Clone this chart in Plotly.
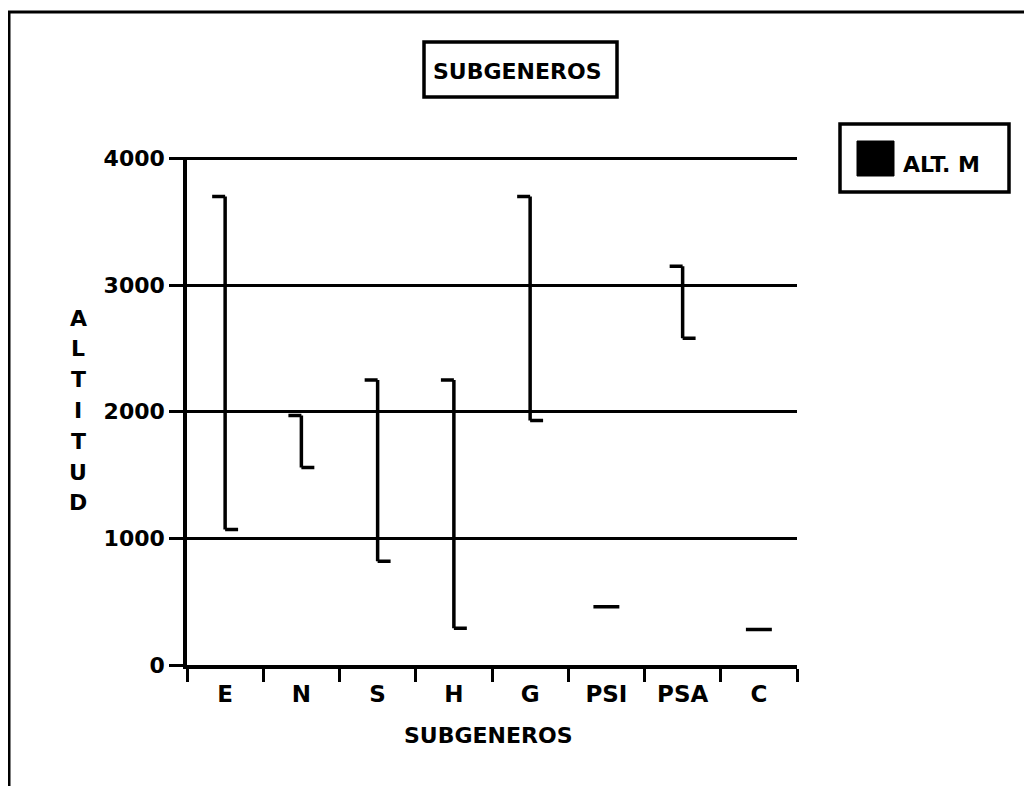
import plotly.graph_objects as go

# ---- data ----
subgeneros = ["E", "N", "S", "H", "G", "PSI", "PSA", "C"]
alt_max = [3700, 1970, 2250, 2250, 3700, 460, 3150, 280]
alt_min = [1070, 1560, 820, 290, 1930, 460, 2580, 280]
y_ticks = [0, 1000, 2000, 3000, 4000]
title_text = "SUBGENEROS"
x_title = "SUBGENEROS"
y_title = "ALTITUD"
legend_label = "ALT. M"

W, H = 1032, 786
OFF = 8  # page body margin
L, T = 187 - OFF, 157 - OFF
BOT = 665 - OFF
R = W - (797 - OFF)
B = H - BOT
PW, PH = W - L - R, H - T - B


def px(xp):
    return (xp - OFF - L) / PW


def py(yp):
    return (BOT - (yp - OFF)) / PH


FONT = dict(family="DejaVu Sans", size=22, color="black", weight="bold")
XFONT = dict(family="DejaVu Sans", size=23, color="black", weight="bold")

fig = go.Figure()
fig.add_trace(go.Ohlc(
    x=subgeneros,
    open=alt_max, high=alt_max, low=alt_min, close=alt_min,
    increasing=dict(line=dict(color="black", width=3.5)),
    decreasing=dict(line=dict(color="black", width=3.5)),
    tickwidth=0.17,
    showlegend=False,
    hoverinfo="skip",
))

shapes = []
shapes.append(dict(type="rect", xref="paper", yref="paper",
                   x0=px(9), x1=px(1050), y0=py(810), y1=py(12),
                   line=dict(color="black", width=3)))
shapes.append(dict(type="rect", xref="paper", yref="paper",
                   x0=px(424), x1=px(617), y0=py(97), y1=py(42),
                   line=dict(color="black", width=3.5), fillcolor="white"))
shapes.append(dict(type="rect", xref="paper", yref="paper",
                   x0=px(840), x1=px(1009), y0=py(192), y1=py(124),
                   line=dict(color="black", width=3.5), fillcolor="white"))
shapes.append(dict(type="rect", xref="paper", yref="paper",
                   x0=px(857), x1=px(894), y0=py(176), y1=py(141),
                   line=dict(color="black", width=1), fillcolor="black"))

annotations = [
    dict(text=title_text, xref="paper", yref="paper", x=px(517), y=py(71),
         xanchor="center", yanchor="middle", showarrow=False, font=FONT),
    dict(text=legend_label, xref="paper", yref="paper", x=px(901), y=py(164),
         xanchor="left", yanchor="middle", showarrow=False, font=FONT),
    dict(text=x_title, xref="paper", yref="paper", x=px(488), y=py(735),
         xanchor="center", yanchor="middle", showarrow=False, font=FONT),
]
for i, ch in enumerate(y_title):
    annotations.append(dict(text=ch, xref="paper", yref="paper",
                            x=px(78), y=py(318 + 30.8 * i),
                            xanchor="center", yanchor="middle",
                            showarrow=False, font=FONT))

fig.update_layout(
    width=W, height=H,
    margin=dict(l=L, r=R, t=T, b=B, pad=0),
    paper_bgcolor="white", plot_bgcolor="white",
    shapes=shapes, annotations=annotations,
    font=FONT,
    showlegend=False,
    xaxis=dict(type="category", categoryorder="array", categoryarray=subgeneros,
               tickson="boundaries", ticks="outside", ticklen=13, tickwidth=3,
               tickcolor="black", showline=True, linewidth=3.5, linecolor="black",
               showgrid=False, zeroline=False, rangeslider=dict(visible=False),
               tickfont=XFONT, ticklabelstandoff=6, fixedrange=True),
    yaxis=dict(range=[0, 4012], tickvals=y_ticks, ticks="outside", ticklen=14,
               tickwidth=3, tickcolor="black", showline=True, linewidth=3.5,
               linecolor="black", showgrid=True, gridcolor="black", gridwidth=3,
               zeroline=False, tickfont=FONT, ticklabelstandoff=0, fixedrange=True),
)

fig.write_html("out.html", config={"displayModeBar": False})
